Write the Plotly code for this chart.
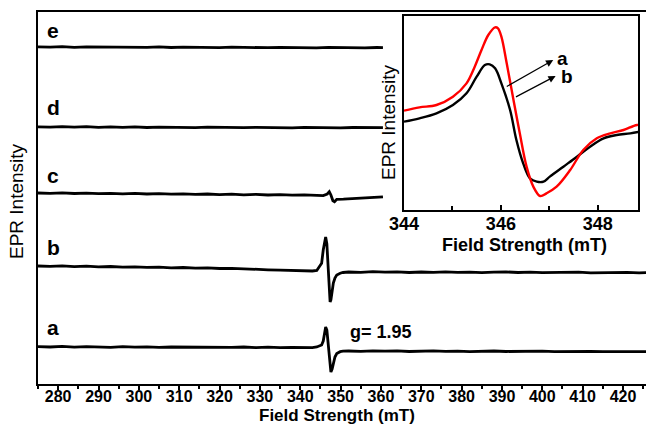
import plotly.graph_objects as go

# ---------------- main spectra (intensity in arbitrary offset units) ----------------
field_ab = [275, 278, 281, 284, 287, 290, 293, 296, 299, 302, 305, 308, 311, 314, 317, 320, 323, 326, 329, 332, 335, 338, 341,
            343.0, 344.1, 345.3, 345.7, 346.0, 346.3, 346.6, 346.8, 347.1, 347.4, 347.6, 347.9, 348.2, 348.6, 349.05, 349.9, 350.6,
            352, 355, 358, 361, 364, 367, 370, 373, 376, 379, 382, 385, 388, 391, 394, 397, 400, 403, 406, 409, 412, 415, 418, 421, 424, 427]

int_a = [37.4, 37.0, 37.6, 36.9, 37.3, 37.1, 36.7, 37.4, 36.9, 37.2, 36.6, 37.0, 36.8, 37.3, 36.5, 36.9, 36.6, 37.0, 36.4, 36.8, 36.3, 36.6, 36.2,
         36.4, 37.0, 39.0, 43.0, 50.0, 57.0, 54.0, 46.0, 30.0, 16.0, 12.0, 15.0, 22.0, 27.0, 30.5, 32.3, 32.8,
         33.0, 32.6, 33.2, 32.8, 33.1, 32.5, 32.9, 33.2, 32.6, 32.9, 32.4, 32.8, 33.0, 32.5, 32.7, 32.3, 32.8, 32.4, 32.6, 32.2, 32.7, 32.3, 32.5, 32.1, 32.4, 32.3]

int_b = [118.0, 117.6, 118.2, 117.4, 117.8, 117.1, 117.5, 116.9, 117.2, 116.6, 116.9, 116.2, 116.5, 115.8, 116.1, 115.5, 115.7, 115.0, 114.6, 114.2, 113.8, 113.3, 113.0,
         113.0, 113.5, 120.7, 134.0, 141.0, 147.0, 140.0, 124.0, 97.0, 82.0, 84.0, 92.0, 101.0, 106.0, 109.0, 110.8, 111.5,
         112.0, 111.6, 112.3, 111.8, 112.1, 111.5, 112.0, 111.7, 112.2, 111.6, 111.9, 111.4, 111.8, 112.1, 111.5, 111.8, 111.3, 111.7, 111.4, 111.8, 111.2, 111.6, 111.3, 111.7, 111.2, 111.5]

field_c = [275, 278, 281, 284, 287, 290, 293, 296, 299, 302, 305, 308, 311, 314, 317, 320, 323, 326, 329, 332, 335, 338, 341,
           343.0, 344.5, 345.7, 346.7, 347.2, 347.6, 348.1, 348.5, 349.05, 350.7,
           352, 355, 358, 360.5]
int_c = [191.0, 190.6, 191.2, 190.5, 190.9, 190.3, 190.7, 190.2, 190.6, 190.0, 190.4, 189.8, 190.2, 189.6, 190.0, 189.4, 189.8, 189.2, 189.6, 189.0, 189.4, 188.9, 189.2,
         188.8, 188.6, 188.4, 190.0, 192.3, 189.0, 183.3, 182.3, 184.7, 184.9,
         185.3, 185.8, 186.4, 187.2]

field_de = [275, 278, 281, 284, 287, 290, 293, 296, 299, 302, 305, 308, 311, 314, 317, 320, 323, 326, 329, 332, 335, 338, 341,
            344, 347, 350, 353, 356, 359, 360.5]
int_d = [257.2, 256.8, 257.4, 256.9, 257.3, 256.6, 257.1, 256.7, 257.2, 256.5, 256.9, 256.6, 257.0, 256.4, 256.8, 256.5, 256.9, 256.3, 256.7, 256.4, 256.8, 256.2, 256.6,
         256.3, 256.7, 256.1, 256.5, 256.2, 256.6, 256.3]
int_e = [337.2, 336.8, 337.3, 336.7, 337.1, 336.9, 337.4, 336.6, 337.0, 336.7, 337.2, 336.5, 336.9, 336.6, 337.0, 336.4, 336.8, 336.5, 336.9, 336.3, 336.7, 336.4, 336.8,
         336.2, 336.6, 336.3, 336.7, 336.1, 336.5, 336.3]

trace_labels = ["a", "b", "c", "d", "e"]
label_y = [57, 137, 209, 277, 354]
x_ticks = [280, 290, 300, 310, 320, 330, 340, 350, 360, 370, 380, 390, 400, 410, 420]

# ---------------- inset ----------------
inset_field_red = [344.00, 344.32, 344.67, 345.01, 345.29, 345.46, 345.60, 345.74, 345.88, 345.94, 346.01, 346.12, 346.26,
                   346.39, 346.53, 346.67, 346.81, 346.94, 347.15, 347.43, 347.70, 347.98, 348.26, 348.53, 348.81, 348.99]
inset_int_red = [298, 308, 315, 340, 380, 430, 480, 525, 548, 545, 520, 440, 330,
                 230, 130, 70, 42, 50, 70, 120, 180, 215, 230, 240, 255, 255]
inset_field_black = [344.00, 344.32, 344.67, 345.01, 345.29, 345.50, 345.67, 345.77, 345.88, 346.01, 346.19, 346.32,
                     346.46, 346.60, 346.74, 346.88, 347.01, 347.29, 347.57, 347.84, 348.12, 348.39, 348.67, 348.99]
inset_int_black = [265, 275, 290, 315, 350, 400, 435, 437, 425, 380, 300, 210,
                   140, 95, 85, 85, 100, 130, 160, 190, 215, 225, 230, 238]
inset_ticks = [344, 346, 348]

FONT = "Liberation Sans, Arial, sans-serif"

fig = go.Figure()
for fx, fy in [(field_ab, int_a), (field_ab, int_b), (field_c, int_c), (field_de, int_d), (field_de, int_e)]:
    fig.add_trace(go.Scatter(x=fx, y=fy, mode="lines", line=dict(color="black", width=2.8),
                             showlegend=False, hoverinfo="skip"))

fig.add_trace(go.Scatter(x=inset_field_black, y=inset_int_black, mode="lines", line=dict(color="black", width=2.4, shape="spline"),
                         xaxis="x2", yaxis="y2", showlegend=False))
fig.add_trace(go.Scatter(x=inset_field_red, y=inset_int_red, mode="lines", line=dict(color="#ff0000", width=2.4, shape="spline"),
                         xaxis="x2", yaxis="y2", showlegend=False))

ann = []
for lab, ly in zip(trace_labels, label_y):
    ann.append(dict(x=278.8, y=ly, xref="x", yref="y", text="<b>%s</b>" % lab, showarrow=False,
                    font=dict(family=FONT, size=21, color="black"), xanchor="center", yanchor="middle"))
ann.append(dict(x=360.0, y=52, xref="x", yref="y", text="<b>g= 1.95</b>", showarrow=False,
                font=dict(family=FONT, size=18, color="black"), xanchor="center", yanchor="middle"))
# axis titles
ann.append(dict(x=(337 - 38) / 608, y=(384 - 415) / 372, xref="paper", yref="paper", text="<b>Field Strength (mT)</b>",
                showarrow=False, font=dict(family=FONT, size=17, color="black"), xanchor="center", yanchor="middle"))
ann.append(dict(x=(16 - 38) / 608, y=(384 - 201) / 372, xref="paper", yref="paper", text="EPR Intensity", textangle=-90,
                showarrow=False, font=dict(family=FONT, size=19, color="black"), xanchor="center", yanchor="middle"))
ann.append(dict(x=(524 - 38) / 608, y=(384 - 245) / 372, xref="paper", yref="paper", text="<b>Field Strength (mT)</b>",
                showarrow=False, font=dict(family=FONT, size=18, color="black"), xanchor="center", yanchor="middle"))
ann.append(dict(x=(389 - 38) / 608, y=(384 - 122) / 372, xref="paper", yref="paper", text="EPR Intensity", textangle=-90,
                showarrow=False, font=dict(family=FONT, size=19, color="black"), xanchor="center", yanchor="middle"))
# inset arrows
ann.append(dict(x=347.08, y=450, ax=346.09, ay=368, xref="x2", yref="y2", axref="x2", ayref="y2", text="",
                showarrow=True, arrowhead=2, arrowsize=1.2, arrowwidth=1.2, arrowcolor="black"))
ann.append(dict(x=347.13, y=402, ax=346.28, ay=337, xref="x2", yref="y2", axref="x2", ayref="y2", text="",
                showarrow=True, arrowhead=2, arrowsize=1.2, arrowwidth=1.2, arrowcolor="black"))
ann.append(dict(x=347.28, y=455, xref="x2", yref="y2", text="<b>a</b>", showarrow=False,
                font=dict(family=FONT, size=19, color="black"), xanchor="center", yanchor="middle"))
ann.append(dict(x=347.36, y=402, xref="x2", yref="y2", text="<b>b</b>", showarrow=False,
                font=dict(family=FONT, size=19, color="black"), xanchor="center", yanchor="middle"))

fig.update_layout(
    width=646, height=425,
    margin=dict(l=38, r=0, t=12, b=41),
    paper_bgcolor="white", plot_bgcolor="white",
    showlegend=False,
    annotations=ann,
    xaxis=dict(range=[275, 425.7], domain=[0, 1], tickvals=x_ticks, ticktext=["<b>%d</b>" % t for t in x_ticks],
               ticks="outside", ticklen=4, tickwidth=1.5,
               tickcolor="black", showline=True, linecolor="black", linewidth=2, mirror=True,
               minor=dict(dtick=5, ticks="outside", ticklen=3, tickwidth=1.5, tickcolor="black"),
               showgrid=False, zeroline=False, ticklabelstandoff=-7,
               tickfont=dict(family=FONT, size=16, color="black")),
    yaxis=dict(range=[0, 372], domain=[0, 1], showticklabels=False, ticks="", showline=True, linecolor="black",
               linewidth=2, showgrid=False, zeroline=False),
    xaxis2=dict(range=[344, 348.83], domain=[(404 - 38) / 608, (638 - 38) / 608], anchor="y2",
                tickvals=inset_ticks, ticktext=["<b>%d</b>" % t for t in inset_ticks],
                ticks="inside", ticklen=5, tickwidth=1.5, tickcolor="black",
                minor=dict(dtick=1, ticks="inside", ticklen=4, tickwidth=1.5, tickcolor="black"),
                showline=True, linecolor="black", linewidth=1.5, mirror=True, showgrid=False, zeroline=False,
                ticklabelstandoff=-3,
                tickfont=dict(family=FONT, size=18, color="black")),
    yaxis2=dict(range=[0, 582], domain=[(384 - 210) / 372, (384 - 16) / 372], anchor="x2",
                showticklabels=False, ticks="", showline=True, linecolor="black", linewidth=1.5, mirror=True,
                showgrid=False, zeroline=False),
)

fig.write_html("out.html")
